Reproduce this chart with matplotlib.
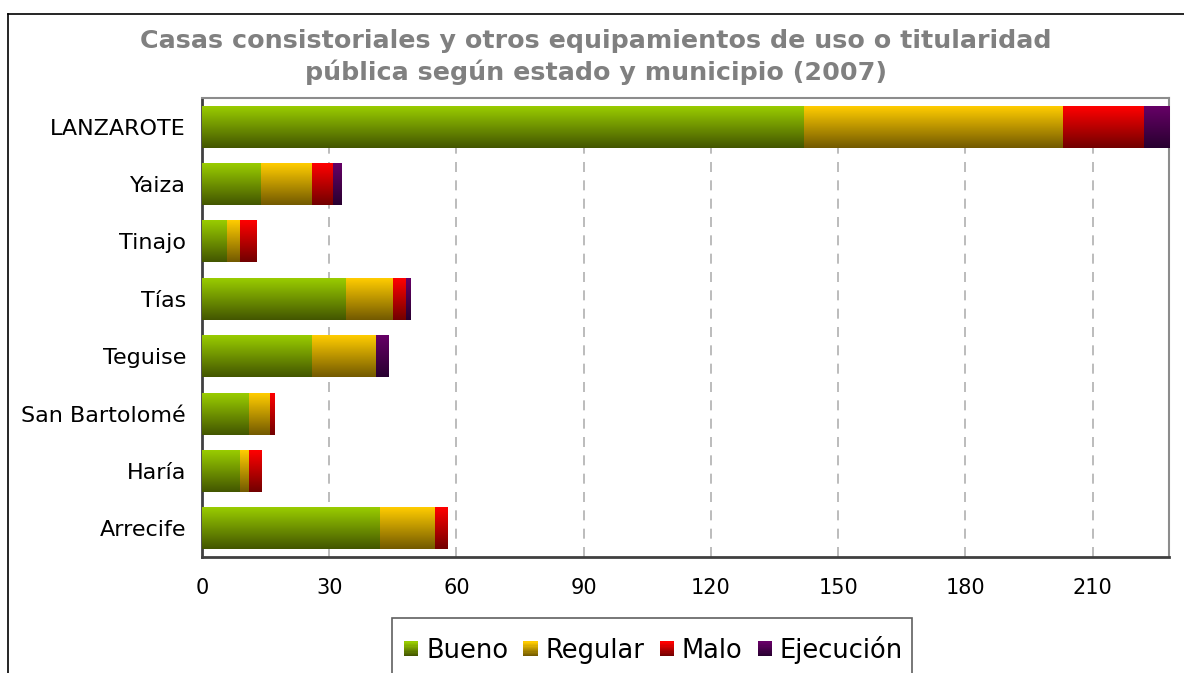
import matplotlib
matplotlib.use("Agg")
import matplotlib.pyplot as plt
import numpy as np
from matplotlib.colors import LinearSegmentedColormap
from matplotlib.patches import Rectangle
from matplotlib.legend_handler import HandlerBase
from matplotlib.lines import Line2D

categories = ["Arrecife", "Haría", "San Bartolomé", "Teguise", "Tías", "Tinajo", "Yaiza", "LANZAROTE"]
bueno = [42, 9, 11, 26, 34, 6, 14, 142]
regular = [13, 2, 5, 15, 11, 3, 12, 61]
malo = [3, 3, 1, 0, 3, 4, 5, 19]
ejecucion = [0, 0, 0, 3, 1, 0, 2, 6]
series_names = ["Bueno", "Regular", "Malo", "Ejecución"]
xticks = [0, 30, 60, 90, 120, 150, 180, 210]

# gradient (top, bottom) colours
grad = {
    "Bueno": ("#99cc00", "#435600"),
    "Regular": ("#ffcc00", "#735a00"),
    "Malo": ("#ff0000", "#720000"),
    "Ejecución": ("#660066", "#280030"),
}

W, H = 1184, 673
fig = plt.figure(figsize=(W / 100, H / 100), dpi=100)
ax = fig.add_axes([202 / W, 1 - 557 / H, (1169 - 202) / W, (557 - 98) / H])

y = np.arange(len(categories))
data = [bueno, regular, malo, ejecucion]
left = np.zeros(len(categories))
bh = 0.73
for name, vals in zip(series_names, data):
    vals = np.array(vals, dtype=float)
    bars = ax.barh(y, vals, left=left, height=bh, color="none", edgecolor="none", zorder=2)
    cmap = LinearSegmentedColormap.from_list(name, [grad[name][1], grad[name][0]])
    g = np.linspace(0, 1, 64).reshape(-1, 1)
    for b in bars:
        w = b.get_width()
        if w <= 0:
            continue
        x0, y0, hh = b.get_x(), b.get_y(), b.get_height()
        ax.imshow(g, cmap=cmap, aspect="auto", origin="lower",
                  extent=[x0, x0 + w, y0, y0 + hh], zorder=3, interpolation="bilinear")
    left += vals

ax.set_xlim(0, 228)
ax.set_ylim(-0.5, len(categories) - 0.5)
ax.set_yticks(y)
ax.set_yticklabels(categories, fontsize=16)
ax.set_xticks(xticks)
ax.set_xticklabels([str(t) for t in xticks], fontsize=15)
ax.tick_params(axis="both", length=0)
ax.tick_params(axis="x", pad=15)
ax.tick_params(axis="y", pad=11.5)
ax.xaxis.grid(True, linestyle=(0, (6, 5)), color="#b0b0b0", linewidth=1.2, zorder=1)
ax.set_axisbelow(True)
for s in ["left", "bottom"]:
    ax.spines[s].set_color("#404040")
    ax.spines[s].set_linewidth(2)
for s in ["top", "right"]:
    ax.spines[s].set_color("#8c8c8c")
    ax.spines[s].set_linewidth(1.5)

fig.text(596 / W, 1 - 57 / H,
         "Casas consistoriales y otros equipamientos de uso o titularidad\npública según estado y municipio (2007)",
         ha="center", va="center", fontsize=18.3, fontweight="bold", color="#808080", linespacing=1.3)

# figure frame
fig.add_artist(Line2D([8 / W, 1], [1 - 14 / H, 1 - 14 / H], color="black", linewidth=1.2, transform=fig.transFigure))
fig.add_artist(Line2D([8 / W, 8 / W], [0, 1 - 14 / H], color="black", linewidth=1.2, transform=fig.transFigure))

# legend box (extends below the figure edge)
fig.add_artist(Rectangle((392 / W, -0.05), (912 - 392) / W, (1 - 618 / H) + 0.05,
                         transform=fig.transFigure, facecolor="white",
                         edgecolor="#606060", linewidth=1.2))


class GradHandler(HandlerBase):
    def __init__(self, top, bottom):
        super().__init__()
        self.top, self.bottom = top, bottom

    def create_artists(self, legend, orig_handle, xdescent, ydescent, width, height, fontsize, trans):
        cmap = LinearSegmentedColormap.from_list("h", [self.bottom, self.top])
        n = 12
        side = fontsize * 0.56
        x0 = -xdescent + (width - side)
        y0 = -ydescent + (height - side) / 2
        arts = []
        for i in range(n):
            r = Rectangle((x0, y0 + side * i / n), side, side / n + 0.3,
                          facecolor=cmap(i / (n - 1)), edgecolor="none", transform=trans)
            arts.append(r)
        return arts


handles = [Rectangle((0, 0), 1, 1) for _ in series_names]
hmap = {h: GradHandler(*grad[n]) for h, n in zip(handles, series_names)}
leg = fig.legend(handles, series_names, handler_map=hmap, loc="center left",
                 bbox_to_anchor=(403 / W, 1 - 650 / H), ncol=4, fontsize=18.5,
                 frameon=False,
                 handlelength=0.6, handletextpad=0.3, columnspacing=0.55,
                 borderpad=0, borderaxespad=0)

fig.savefig("out.png", dpi=100)
